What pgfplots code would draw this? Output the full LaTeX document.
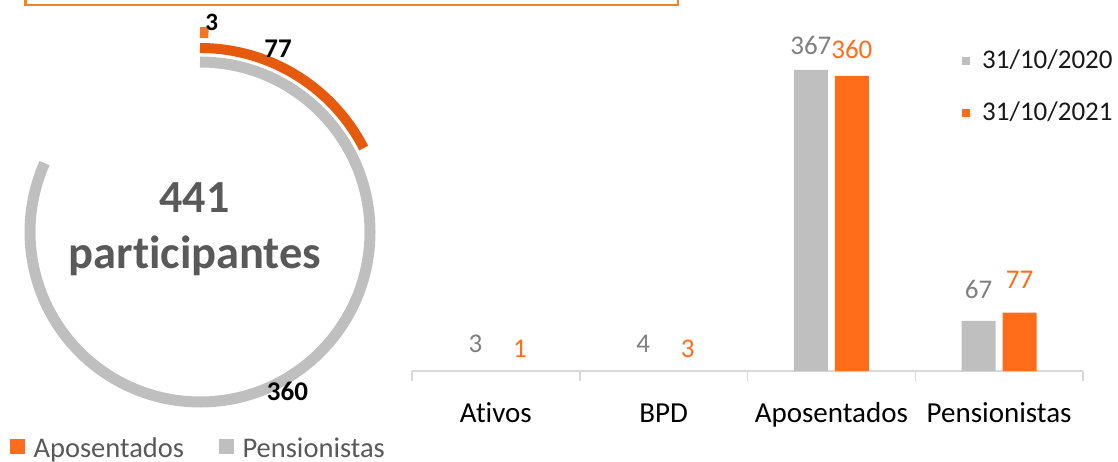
\documentclass[border=0pt]{standalone}
\usepackage{pgfplots}
\pgfplotsset{compat=1.18}
\usepackage{pgfplotstable}
\usepackage{fontspec}
\setmainfont{Carlito}[Ligatures=NoCommon]

\definecolor{ringgrey}{HTML}{BFBFBF}
\definecolor{ringorange}{HTML}{E65A0E}
\definecolor{tinyorange}{HTML}{F2761D}
\definecolor{barorange}{HTML}{FF6C1A}
\definecolor{bargrey}{HTML}{BFBFBF}
\definecolor{labgrey}{HTML}{7F7F7F}
\definecolor{centergrey}{HTML}{595959}
\definecolor{axisgrey}{HTML}{D9D9D9}
\definecolor{boxorange}{HTML}{F0832A}

% participantes por categoria (gap = distancia do rotulo, em pt)
\pgfplotstableread{
cat y2020 y2021 gap20 gap21
0   3     1     19    14
1   4     3     19    14
2   367   360   15    17
3   67    77    22    24
}\bartab

% aneis do grafico de rosca (valor, raio e espessura em pt)
\pgfplotstableread{
ring value radius thick
0    3     199.5  11
1    77    184    10
2    360   170    11
}\ringtab

\def\total{441}

\begin{document}
\begin{tikzpicture}
\useasboundingbox (0,0) rectangle (1118pt,461pt);
\draw[boxorange, line width=2.7pt] (25.5pt,480pt) |- (678pt,456pt) -- (678pt,480pt);

\pgfplotstablegetelem{0}{value}\of\ringtab
\pgfmathsetmacro\angA{-\pgfplotsretval/\total*360}
\pgfplotstablegetelem{1}{value}\of\ringtab
\pgfmathsetmacro\angB{-\pgfplotsretval/\total*360}
\pgfplotstablegetelem{2}{value}\of\ringtab
\pgfmathsetmacro\angC{-\pgfplotsretval/\total*360}

% rosca
\begin{axis}[
    hide axis, scale only axis, clip=false,
    width=400pt, height=400pt,
    xmin=-200, xmax=200, ymin=-200, ymax=200,
    at={(0pt,29pt)}, anchor=south west,
    legend columns=2,
    legend style={at={(0.025,-0.04)}, anchor=west, draw=none, fill=none,
        inner sep=0pt, font=\fontsize{28.5}{34}\selectfont, text=centergrey,
        nodes={inner sep=0pt},
        /tikz/every odd column/.append style={column sep=9pt},
        /tikz/every even column/.append style={column sep=35pt}},
    legend image code/.code={\fill[#1] (0pt,-5pt) rectangle (14pt,8.5pt);},
]
\addlegendimage{barorange}
\addlegendentry{Aposentados}
\addlegendimage{bargrey}
\addlegendentry{Pensionistas}

\draw[ringgrey, line width=11pt] (axis cs:0,170) arc[start angle=90, delta angle=\angC, radius=170pt];
\draw[ringorange, line width=10pt] (axis cs:0,184) arc[start angle=90, delta angle=\angB, radius=184pt];
\draw[tinyorange, line width=11pt] (axis cs:0,199.5) arc[start angle=90, delta angle=\angA, radius=199.5pt];

\node[anchor=base, font=\fontsize{25}{30}\selectfont\bfseries] at (axis cs:11.7,201) {3};
\node[anchor=base, font=\fontsize{27}{32}\selectfont\bfseries] at (axis cs:78,174) {77};
\node[anchor=base, font=\fontsize{27}{32}\selectfont\bfseries] at (axis cs:87.5,-168) {360};

\node[anchor=base, text=centergrey, font=\fontsize{46}{54}\selectfont\bfseries] at (axis cs:-5.5,19) {441};
\node[anchor=base, text=centergrey, font=\fontsize{46.5}{54}\selectfont\bfseries] at (axis cs:-5,-36) {participantes};
\end{axis}

% barras
\begin{axis}[
    scale only axis,
    width=671pt, height=328.7pt,
    at={(412pt,90pt)}, anchor=south west,
    xmin=-0.5, xmax=3.5, ymin=7.2, ymax=400,
    axis y line=none, axis x line*=bottom,
    x axis line style={draw=axisgrey, line width=1.5pt},
    ytick=\empty,
    xtick={0,1,2,3},
    xticklabels={Ativos,BPD,Aposentados,Pensionistas},
    major tick length=0pt,
    tick align=outside,
    extra x ticks={-0.5,0.5,1.5,2.5,3.5},
    extra x tick labels={},
    extra x tick style={major tick length=10pt,
        tick style={draw=axisgrey, line width=1.5pt}},
    xticklabel style={font=\fontsize{29}{34}\selectfont, anchor=base, yshift=-51pt},
    /pgf/number format/assume math mode=true,
    bar width=34pt,
    every node near coord/.append style={font=\fontsize{27}{32}\selectfont,
        anchor=base},
    legend style={at={(0.8197,0.9766)}, anchor=north west, draw=none, fill=none,
        inner sep=0pt, font=\fontsize{27}{32}\selectfont, text=black!90,
        nodes={inner sep=0pt, text height=18pt, text depth=4pt},
        row sep=30pt,
        /tikz/every odd column/.append style={column sep=12pt}},
    legend image code/.code={\fill[#1] (0pt,-4pt) rectangle (8pt,4pt);},
]
\addplot[ybar, bar shift=-20.5pt, fill=bargrey, draw=none,
    restrict y to domain=7.2:1000,
    visualization depends on={\thisrow{gap20} \as \gap},
    nodes near coords, every node near coord/.append style={text=labgrey, xshift=-20.5pt, yshift=\gap pt}]
    table[x=cat, y=y2020] {\bartab};
\addlegendentry{31/10/2020}
\addplot[ybar, bar shift=20.5pt, fill=barorange, draw=none,
    restrict y to domain=7.2:1000,
    visualization depends on={\thisrow{gap21} \as \gap},
    nodes near coords, every node near coord/.append style={text=barorange, xshift=20.5pt, yshift=\gap pt}]
    table[x=cat, y=y2021] {\bartab};
\addlegendentry{31/10/2021}
% rotulos das barras abaixo do limite inferior
\addplot[forget plot, draw=none, mark=none, restrict x to domain=0:1,
    point meta=\thisrow{y2020}, nodes near coords,
    visualization depends on={\thisrow{gap20} \as \gap},
    every node near coord/.append style={text=labgrey, xshift=-20.5pt, yshift=\gap pt}]
    table[x=cat, y expr=7.2] {\bartab};
\addplot[forget plot, draw=none, mark=none, restrict x to domain=0:1,
    point meta=\thisrow{y2021}, nodes near coords,
    visualization depends on={\thisrow{gap21} \as \gap},
    every node near coord/.append style={text=barorange, xshift=24pt, yshift=\gap pt}]
    table[x=cat, y expr=7.2] {\bartab};
\end{axis}
\end{tikzpicture}
\end{document}
